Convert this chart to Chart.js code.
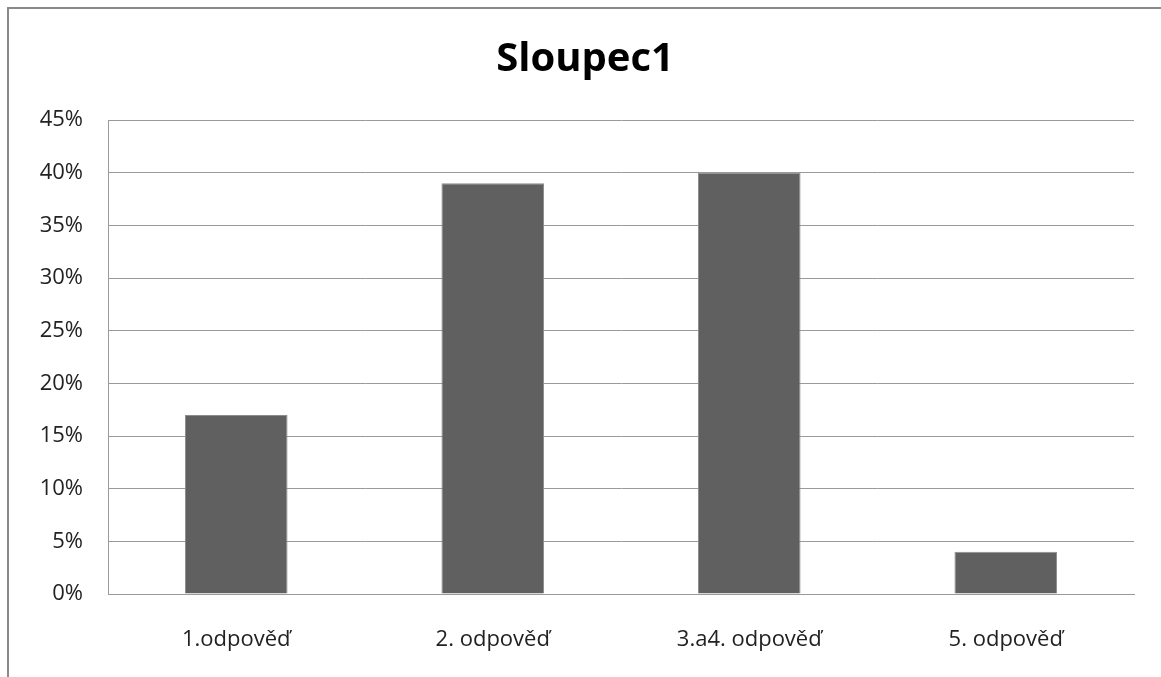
<!DOCTYPE html>
<html>
<head>
<meta charset="utf-8">
<script src="https://cdn.jsdelivr.net/npm/chart.js@4/dist/chart.umd.min.js"></script>
<style>
  html, body { margin: 0; padding: 0; background: #fff; }
  #c { display: block; }
</style>
</head>
<body>
<canvas id="c" width="1161" height="677"></canvas>
<script>
const categories = ["1.odpověď", "2. odpověď", "3.a4. odpověď", "5. odpověď"];
const values = [17, 39, 40, 4];
const yTickValues = [0, 5, 10, 15, 20, 25, 30, 35, 40, 45];
const titleText = "Sloupec1";

const FONT = "'Open Sans', 'Liberation Sans', sans-serif";

const framePlugin = {
  id: 'frame',
  beforeDraw(chart) {
    const ctx = chart.ctx;
    ctx.save();
    ctx.fillStyle = '#fff';
    ctx.fillRect(0, 0, chart.width, chart.height);
    ctx.strokeStyle = '#8a8a8a';
    ctx.lineWidth = 2;
    ctx.beginPath();
    ctx.moveTo(8, chart.height + 2);
    ctx.lineTo(8, 8);
    ctx.lineTo(chart.width + 2, 8);
    ctx.stroke();
    ctx.restore();
  }
};

new Chart(document.getElementById('c'), {
  type: 'bar',
  data: {
    labels: categories,
    datasets: [{
      label: titleText,
      data: values,
      backgroundColor: '#606060',
      borderColor: '#8c8c8c',
      borderWidth: 1,
      barPercentage: 0.4,
      categoryPercentage: 1.0
    }]
  },
  options: {
    responsive: false,
    devicePixelRatio: 1,
    animation: false,
    layout: { padding: { left: 36, right: 27, top: 0, bottom: 0 } },
    plugins: {
      legend: { display: false },
      tooltip: { enabled: false },
      title: {
        display: true,
        text: titleText,
        color: '#000',
        font: { family: FONT, size: 40, weight: 'bold' },
        padding: { top: 36, bottom: 36 }
      }
    },
    scales: {
      x: {
        grid: { display: false, drawTicks: false },
        border: { display: true, color: '#9a9a9a', width: 1 },
        ticks: { color: '#222', font: { family: FONT, size: 22 }, padding: 33, maxRotation: 0 },
        afterFit(s) { s.height = 83; }
      },
      y: {
        min: 0,
        max: 45,
        afterBuildTicks(s) { s.ticks = yTickValues.map(v => ({ value: v })); },
        grid: { color: '#9a9a9a', lineWidth: 1, drawTicks: false },
        border: { display: true, color: '#9a9a9a', width: 1 },
        ticks: {
          color: '#222',
          font: { family: FONT, size: 22 },
          padding: 25,
          callback: v => v + '%'
        },
        afterFit(s) { s.width = 72; }
      }
    }
  },
  plugins: [framePlugin]
});
</script>
</body>
</html>
